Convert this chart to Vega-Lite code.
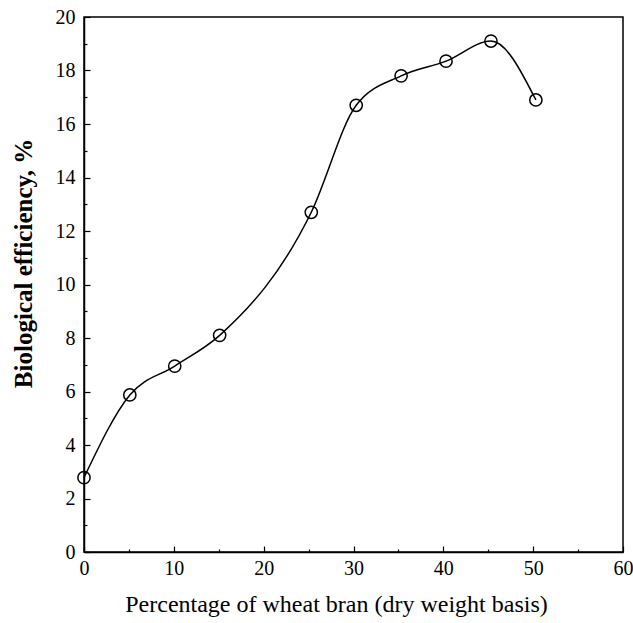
{
  "$schema": "https://vega.github.io/schema/vega-lite/v6.json",
  "autosize": {"type": "none"},
  "width": 539,
  "height": 535,
  "padding": {"left": 84, "top": 17, "right": 10, "bottom": 71},
  "background": "white",
  "config": {
    "view": {"stroke": "black", "strokeWidth": 1.5},
    "font": "Liberation Serif",
    "axis": {
      "domainColor": "black", "domainWidth": 1.5, "tickColor": "black", "tickWidth": 1.2,
      "labelColor": "black", "titleColor": "black", "grid": false,
      "labelFont": "Liberation Serif", "titleFont": "Liberation Serif"
    }
  },
  "data": {"values": [
    {"bran": 0, "be": 2.78},
    {"bran": 5.1, "be": 5.87},
    {"bran": 10.1, "be": 6.95},
    {"bran": 15.1, "be": 8.1},
    {"bran": 25.3, "be": 12.7},
    {"bran": 30.3, "be": 16.7},
    {"bran": 35.3, "be": 17.8},
    {"bran": 40.3, "be": 18.35},
    {"bran": 45.3, "be": 19.1},
    {"bran": 50.3, "be": 16.9}
  ]},
  "layer": [
    {
      "mark": {"type": "line", "interpolate": "monotone", "color": "black", "strokeWidth": 1.5},
      "encoding": {
        "x": {"field": "bran", "type": "quantitative", "scale": {"domain": [0, 60], "nice": false},
          "axis": {"orient": "bottom", "values": [0, 10, 20, 30, 40, 50, 60], "tickSize": -6, "labelPadding": 12,
            "labelFontSize": 20, "titleFontSize": 24, "titleFontWeight": "normal",
            "title": "Percentage of wheat bran (dry weight basis)", "titlePadding": 14, "titleX": 252, "labelFlush": false}},
        "y": {"field": "be", "type": "quantitative", "scale": {"domain": [0, 20], "nice": false},
          "axis": {"orient": "left", "values": [0, 2, 4, 6, 8, 10, 12, 14, 16, 18, 20], "tickSize": -6, "labelPadding": 15,
            "labelFontSize": 20, "titleFontSize": 25, "titleFontWeight": "bold",
            "title": "Biological efficiency, %", "titlePadding": 19, "titleY": 246, "labelFlush": false}}
      }
    },
    {
      "mark": {"type": "point", "shape": "circle", "filled": false, "color": "black", "size": 150, "strokeWidth": 1.5, "opacity": 1},
      "encoding": {
        "x": {"field": "bran", "type": "quantitative",
          "axis": {"orient": "bottom", "values": [5, 15, 25, 35, 45, 55], "tickSize": -3, "labels": false, "domain": false, "title": null}},
        "y": {"field": "be", "type": "quantitative",
          "axis": {"orient": "left", "values": [1, 3, 5, 7, 9, 11, 13, 15, 17, 19], "tickSize": -3, "labels": false, "domain": false, "title": null}}
      }
    }
  ],
  "resolve": {"axis": {"x": "independent", "y": "independent"}}
}
